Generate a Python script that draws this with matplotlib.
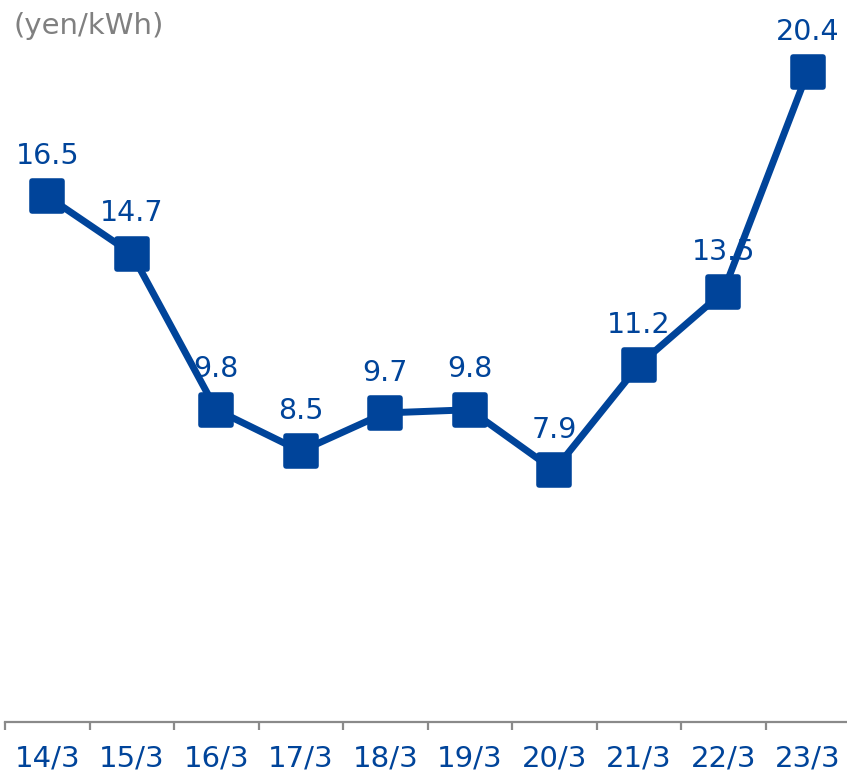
import matplotlib
matplotlib.use("Agg")
import matplotlib.pyplot as plt
from matplotlib.markers import MarkerStyle

# Unit price data (yen/kWh) by fiscal year-end
periods = ["14/3", "15/3", "16/3", "17/3", "18/3", "19/3", "20/3", "21/3", "22/3", "23/3"]
prices = [16.5, 14.7, 9.8, 8.5, 9.7, 9.8, 7.9, 11.2, 13.5, 20.4]
value_labels = ["16.5", "14.7", "9.8", "8.5", "9.7", "9.8", "7.9", "11.2", "13.5", "20.4"]
unit_label = "(yen/kWh)"

BLUE = "#00449a"
GRAY = "#8a8a8a"
W, H, DPI = 847, 774, 100

plt.rcParams["font.family"] = ["DejaVu Sans"]

fig = plt.figure(figsize=(W / DPI, H / DPI), dpi=DPI)
ax = fig.add_axes([5 / W, 52 / H, 845 / W, 1 - 52 / H])

x = list(range(len(periods)))
ax.plot(x, prices, color=BLUE, lw=5.0, solid_joinstyle="round", zorder=3)
marker = MarkerStyle("s", joinstyle="round")
ax.plot(x, prices, linestyle="none", marker=marker, markersize=21,
        markerfacecolor=BLUE, markeredgecolor=BLUE, markeredgewidth=4.0, zorder=4)

for xi, yi, lab in zip(x, prices, value_labels):
    ax.annotate(lab, (xi, yi), xytext=(0, 29), textcoords="offset points",
                ha="center", va="center", fontsize=20.5, color=BLUE, zorder=2)

ax.set_xlim(-0.5, len(periods) - 0.5)
ax.set_ylim(0, 22.66)

for s in ["top", "right", "left"]:
    ax.spines[s].set_visible(False)
ax.spines["bottom"].set_color(GRAY)
ax.spines["bottom"].set_linewidth(1.6)
ax.set_yticks([])

# category boundaries as ticks, labels centred between them
ax.set_xticks([i - 0.5 for i in range(len(periods) + 1)])
ax.set_xticklabels([])
ax.tick_params(axis="x", which="major", length=6, width=1.6, color=GRAY, direction="out")
ax.set_xticks(x, minor=True)
ax.set_xticklabels(periods, minor=True)
ax.tick_params(axis="x", which="minor", length=0, pad=16, labelsize=21, labelcolor=BLUE)

fig.text(13 / W, 1 - 26 / H, unit_label, fontsize=21, color="#808080",
         ha="left", va="center")

fig.savefig("out.png", dpi=DPI)
